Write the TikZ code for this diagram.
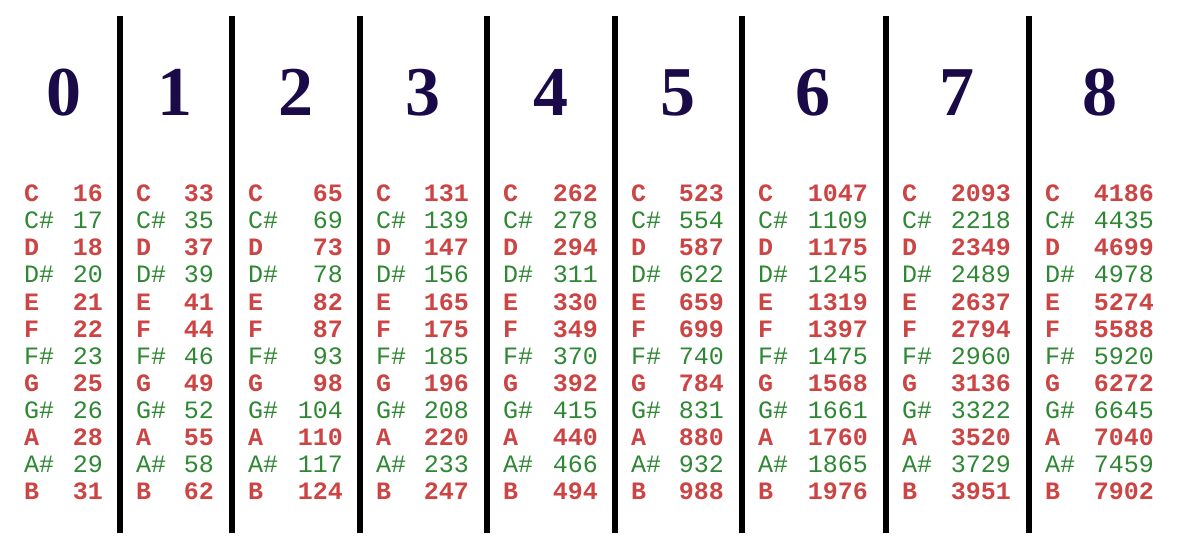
\documentclass[tikz,border=0pt]{standalone}
\usepackage{fontspec}
\setmainfont{Liberation Serif}
\setmonofont{Liberation Mono}
\usetikzlibrary{positioning}
\definecolor{octnavy}{RGB}{26,10,72}
\definecolor{notered}{RGB}{204,68,68}
\definecolor{notegreen}{RGB}{46,135,50}

\begin{document}
\begin{tikzpicture}[
    x=1pt, y=-1pt,
    divider/.style={
		line width=6pt,
		draw=black
	},
    octave/.style={
		font=\fontsize{70}{70}\selectfont\bfseries,
		text=octnavy,
		anchor=base,
		inner sep=0pt
	},
    natural/.style={
		font=\fontsize{25}{25}\selectfont\ttfamily\bfseries,
		text=notered,
		inner sep=0pt
	},
    sharp/.style={
		font=\fontsize{25}{25}\selectfont\ttfamily,
		text=notegreen,
		inner sep=0pt
	}
  ]
  \useasboundingbox (0,0) rectangle (1192,556);

  % the black lines between the octaves
  \foreach \x [count=\i] in {120,232,360,487,615,742,886,1029} {
    \coordinate (top\i) at (\x,16);
    \coordinate (bot\i) at (\x,533);
    \draw [divider] (top\i) -- (bot\i);
  }

  % one column per octave: number, then note names and frequencies
  \foreach \o/\xl/\xr/\freqs in {
      0/25/102/{16,17,18,20,21,22,23,25,26,28,29,31},
      1/137/213/{33,35,37,39,41,44,46,49,52,55,58,62},
      2/249/342/{65,69,73,78,82,87,93,98,104,110,117,124},
      3/377/468/{131,139,147,156,165,175,185,196,208,220,233,247},
      4/504/597/{262,278,294,311,330,349,370,392,415,440,466,494},
      5/632/723/{523,554,587,622,659,699,740,784,831,880,932,988},
      6/759/867/{1047,1109,1175,1245,1319,1397,1475,1568,1661,1760,1865,1976},
      7/903/1010/{2093,2218,2349,2489,2637,2794,2960,3136,3322,3520,3729,3951},
      8/1046/1153/{4186,4435,4699,4978,5274,5588,5920,6272,6645,7040,7459,7902}} {
    \node [octave] (oct\o) at ({(\xl+\xr)/2},116) {\o};
    \foreach \n/\s [count=\k] in {C/natural, C\#/sharp, D/natural, D\#/sharp,
        E/natural, F/natural, F\#/sharp, G/natural, G\#/sharp, A/natural,
        A\#/sharp, B/natural} {
      \pgfmathtruncatemacro\f{{\freqs}[\k-1]}
      \node [\s, anchor=base west] (name\o-\k) at (\xl-1,175+27*\k) {\n};
      \node [\s, anchor=base east] (freq\o-\k) at (\xr+1,175+27*\k) {\f};
    }
  }
\end{tikzpicture}
\end{document}
